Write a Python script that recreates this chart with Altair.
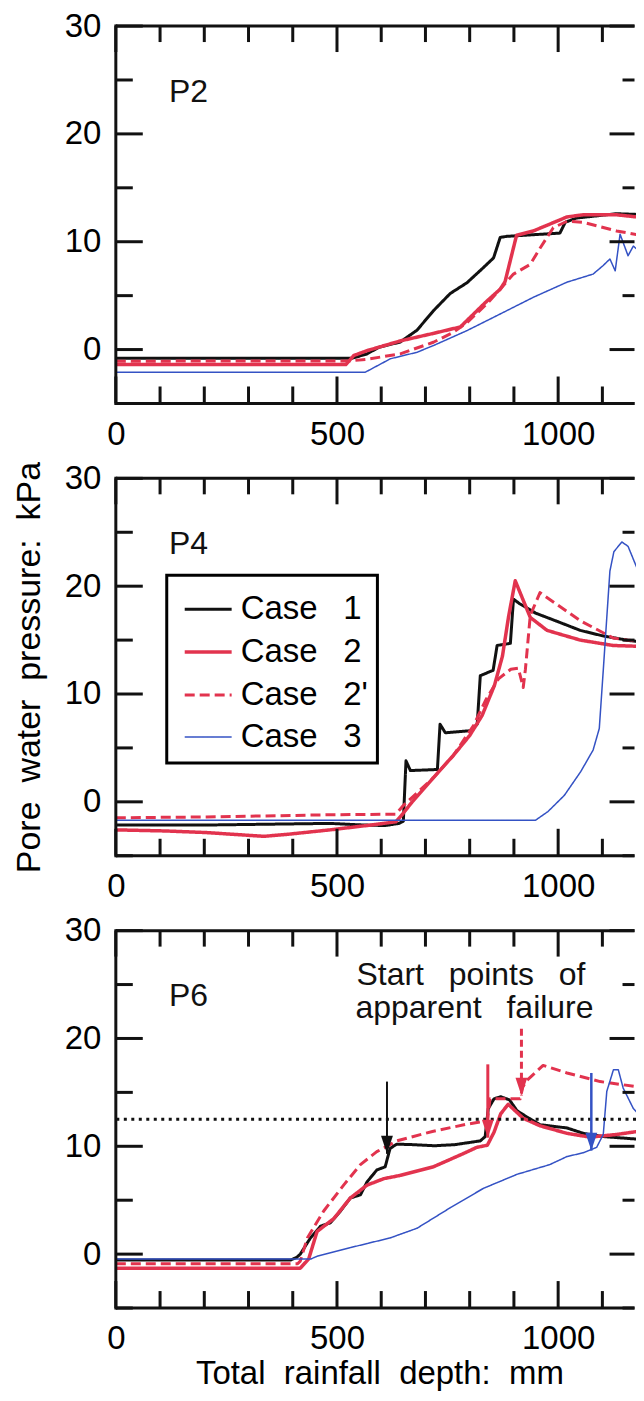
import altair as alt
import pandas as pd

FONT = "Liberation Sans"
BLACK = "#111111"
RED = "#e2334e"
BLUE = "#3452c4"

CASES = ["Case 1", "Case 2", "Case 2'", "Case 3"]
CASE_COLORS = [BLACK, RED, RED, BLUE]
CASE_DASH = [[1, 0], [1, 0], [10, 5], [1, 0]]
CASE_WIDTH = [3, 3.5, 3, 1.5]

# ---------------- P2 ----------------
p2_c1_x = [0, 535, 568, 594, 643, 681, 718, 756, 794, 831, 854, 869, 884, 1004, 1016, 1042, 1132, 1200]
p2_c1_y = [-0.8, -0.8, -0.4, 0.2, 0.7, 1.8, 3.6, 5.2, 6.2, 7.6, 8.5, 10.4, 10.5, 10.8, 11.8, 12.2, 12.6, 12.5]
p2_c2_x = [0, 520, 538, 568, 643, 718, 779, 809, 839, 869, 880, 906, 944, 1020, 1057, 1132, 1200]
p2_c2_y = [-1.39, -1.39, -0.55, -0.1, 0.8, 1.5, 2.1, 3.3, 4.5, 5.6, 6.3, 10.6, 11.0, 12.3, 12.5, 12.5, 12.2]
p2_c2d_x = [0, 530, 568, 643, 718, 763, 794, 839, 869, 899, 937, 959, 989, 1020, 1057, 1132, 1200]
p2_c2d_y = [-1.08, -1.05, -0.9, -0.4, 0.68, 1.6, 2.5, 4.25, 5.6, 7.0, 7.9, 9.4, 11.3, 11.9, 11.8, 11.0, 10.5]
p2_c3_x = [0, 564, 621, 681, 718, 794, 869, 944, 1020, 1079, 1102, 1117, 1129, 1140, 1158, 1170, 1181, 1200]
p2_c3_y = [-2.1, -2.1, -0.85, -0.25, 0.37, 1.76, 3.3, 4.85, 6.25, 7.0, 7.8, 8.4, 7.3, 10.7, 8.7, 9.6, 9.2, 9.8]

# ---------------- P4 ----------------
p4_c1_x = [0, 205, 484, 560, 609, 640, 650, 656, 666, 727, 733, 745, 801, 817, 824, 853, 862, 892, 899, 912, 949, 1000, 1050, 1100, 1162, 1200]
p4_c1_y = [-2.15, -2.15, -2.0, -2.15, -2.2, -2.0, -1.8, 3.8, 2.9, 3.0, 7.2, 6.4, 6.6, 7.2, 11.7, 12.2, 14.5, 14.7, 18.8, 18.4, 17.5, 16.7, 15.9, 15.4, 14.95, 14.8]
p4_c2_x = [0, 112, 205, 335, 391, 484, 577, 633, 647, 670, 716, 763, 800, 828, 856, 874, 888, 903, 912, 937, 975, 1050, 1124, 1200]
p4_c2_y = [-2.6, -2.7, -2.85, -3.2, -3.0, -2.6, -2.15, -1.85, -1.2, 0.0, 2.15, 4.3, 6.15, 8.0, 10.8, 13.5, 17.2, 20.5, 19.6, 17.1, 15.9, 15.0, 14.5, 14.4]
p4_c2d_x = [0, 205, 484, 633, 651, 716, 763, 809, 837, 865, 893, 910, 921, 926, 937, 959, 1050, 1124, 1155, 1200]
p4_c2d_y = [-1.48, -1.4, -1.2, -1.15, -0.3, 2.15, 4.3, 7.1, 9.5, 11.4, 12.3, 12.4, 10.6, 12.3, 17.3, 19.4, 16.8, 15.2, 15.0, 14.8]
p4_c3_x = [0, 949, 977, 1014, 1051, 1079, 1093, 1102, 1117, 1126, 1144, 1158, 1177, 1200]
p4_c3_y = [-1.7, -1.7, -0.9, 0.6, 2.8, 4.8, 6.8, 12.2, 21.4, 23.2, 24.1, 23.7, 21.8, 20.2]

# ---------------- P6 ----------------
p6_c1_x = [0, 395, 409, 417, 440, 463, 485, 508, 530, 553, 568, 590, 609, 620, 635, 673, 720, 766, 824, 835, 842, 855, 870, 890, 907, 930, 959, 1020, 1057, 1102, 1200]
p6_c1_y = [-0.55, -0.55, -0.3, 0.0, 1.5, 2.6, 2.9, 4.0, 5.2, 5.5, 6.7, 7.8, 8.1, 9.8, 10.2, 10.15, 10.05, 10.15, 10.5, 10.9, 13.5, 14.4, 14.6, 14.3, 13.3, 12.7, 12.0, 11.7, 11.2, 10.9, 10.6]
p6_c2_x = [0, 417, 436, 455, 493, 530, 568, 606, 643, 718, 779, 816, 840, 855, 870, 887, 921, 959, 1020, 1072, 1133, 1200]
p6_c2_y = [-1.3, -1.3, -0.45, 2.1, 3.3, 5.2, 6.4, 7.0, 7.3, 8.1, 9.2, 9.9, 10.1, 11.3, 13.0, 13.9, 12.6, 11.9, 11.2, 10.85, 11.1, 11.5]
p6_c2d_x = [0, 411, 417, 433, 470, 515, 553, 590, 635, 718, 794, 831, 840, 846, 914, 920, 929, 966, 1020, 1095, 1200]
p6_c2d_y = [-0.9, -0.9, -0.65, 1.5, 4.0, 6.4, 8.3, 9.5, 10.5, 11.4, 12.05, 12.3, 12.4, 14.4, 14.4, 15.5, 16.1, 17.5, 16.8, 16.0, 15.4]
p6_c3_x = [0, 441, 455, 530, 620, 681, 756, 831, 907, 981, 1020, 1057, 1087, 1102, 1110, 1125, 1136, 1147, 1170, 1200]
p6_c3_y = [-0.45, -0.45, -0.2, 0.6, 1.5, 2.4, 4.3, 6.1, 7.4, 8.3, 9.05, 9.4, 9.9, 11.1, 15.1, 17.1, 17.1, 15.4, 13.5, 12.2]

# P6 annotations
threshold_y = [12.5]
arrow_x = [613, 841, 917, 1075]
arrow_top = [16.0, 17.6, 20.9, 16.8]
arrow_tip = [9.3, 10.8, 14.7, 9.6]
arrow_color = [BLACK, RED, RED, BLUE]
arrow_width = [2, 3, 3, 2.5]
arrow_dashed = [False, False, True, False]
note_x = [544, 542]
note_y = [24.95, 21.93]
note_text = ["Start points of", "apparent failure"]

panel_tags = ["P2", "P4", "P6"]
x_tick_values = list(range(0, 1200, 100))
y_tick_values = list(range(-5, 31, 5))
x_labels = [0, 500, 1000]
y_labels = [0, 10, 20, 30]

LGAP = "\u2002\u00a0"
NGAP = "\u2002\u00a0"
TGAP = "\u00a0\u00a0"
YTITLE = TGAP.join(["Pore", "water", "pressure:", "kPa"])
XTITLE = TGAP.join(["Total", "rainfall", "depth:", "mm"])

W, H = 521, 378
X_MAX = 1176
XS = alt.Scale(domain=[0, X_MAX], nice=False, zero=False)
YS = alt.Scale(domain=[-5, 30], nice=False, zero=False)
HEAD = "M-0.33,-1L0.33,-1L0,0Z"


def series_df(series):
    rows = []
    for case, xs, ys in series:
        for x, y in zip(xs, ys):
            rows.append({"x": x, "y": y, "case": case})
    return pd.DataFrame(rows)


def tick_layers(X, Y):
    tx = pd.DataFrame({"x": [v for v in x_tick_values if v <= X_MAX],
                       "major": [v % 500 == 0 for v in x_tick_values if v <= X_MAX]})
    ty = pd.DataFrame({"y": y_tick_values, "major": [v % 10 == 0 for v in y_tick_values]})
    out = []
    for major, ln, rln in [(True, 27, 25), (False, 17, 12)]:
        flt = "datum.major" if major else "!datum.major"
        bx = alt.Chart(tx).transform_filter(flt).mark_rule(color=BLACK, strokeWidth=3)
        out.append(bx.encode(x=X("x"), y=alt.value(H), y2=alt.value(H - ln)))
        out.append(bx.encode(x=X("x"), y=alt.value(0), y2=alt.value(ln - 1)))
        by = alt.Chart(ty).transform_filter(flt).mark_rule(color=BLACK, strokeWidth=3)
        out.append(by.encode(y=Y("y"), x=alt.value(0), x2=alt.value(ln)))
        out.append(by.encode(y=Y("y"), x=alt.value(W - 1.5 - rln), x2=alt.value(W - 1.5)))
    one = pd.DataFrame({"k": [0]})
    fr = alt.Chart(one).mark_rule(color=BLACK, strokeWidth=3)
    out.append(fr.encode(x=alt.value(0), x2=alt.value(W - 1.5), y=alt.value(0)))
    out.append(fr.encode(x=alt.value(0), x2=alt.value(W - 1.5), y=alt.value(H)))
    out.append(fr.encode(x=alt.value(0), y=alt.value(-1.5), y2=alt.value(H + 1.5)))
    return out


def p6_extras(X, Y):
    out = []
    out.append(alt.Chart(pd.DataFrame({"y": threshold_y})).mark_rule(
        color=BLACK, strokeWidth=3, strokeDash=[3, 4.5], clip=True
    ).encode(y=Y("y")))
    for i in range(len(arrow_x)):
        d = pd.DataFrame({"x": [arrow_x[i]], "y": [arrow_top[i]], "tip": [arrow_tip[i]]})
        kw = dict(color=arrow_color[i], strokeWidth=arrow_width[i])
        if arrow_dashed[i]:
            kw["strokeDash"] = [7, 4]
        out.append(alt.Chart(d).mark_rule(**kw).encode(x=X("x"), y=Y("y"), y2=alt.Y2("tip:Q")))
        d2 = pd.DataFrame({"x": [arrow_x[i]], "y": [arrow_tip[i]]})
        out.append(alt.Chart(d2).mark_point(shape=HEAD, filled=True, size=1296, opacity=1,
                                            color=arrow_color[i], strokeWidth=0).encode(
            x=X("x"), y=Y("y")))
    out.append(alt.Chart(pd.DataFrame({"x": note_x, "y": note_y,
                                       "t": [s.replace(" ", NGAP) for s in note_text]})).mark_text(
        align="left", baseline="alphabetic", fontSize=32, font=FONT, color=BLACK
    ).encode(x=X("x"), y=Y("y"), text="t:N"))
    return out


def panel(tag, series, show_legend=False, xtitle=None, ytitle=None, extras=None):
    df = series_df(series)
    common_x = dict(values=x_labels, format="d", ticks=False, tickSize=0, domain=False,
                    grid=False, labelFont=FONT, labelFontSize=33, labelColor="black",
                    labelPadding=15, labelFlush=False)
    if xtitle:
        xaxis = alt.Axis(title=xtitle, titleFont=FONT, titleFontSize=33, titleFontWeight="normal",
                         titleColor="black", titleBaseline="alphabetic", titleY=76, titleX=264,
                         **common_x)
    else:
        xaxis = alt.Axis(title=None, **common_x)
    common_y = dict(values=y_labels, format="d", ticks=False, tickSize=0, domain=False,
                    grid=False, labelFont=FONT, labelFontSize=33, labelColor="black",
                    labelPadding=15, labelFlush=False)
    if ytitle:
        yaxis = alt.Axis(title=ytitle, titleFont=FONT, titleFontSize=34, titleFontWeight="normal",
                         titleColor="black", titleAngle=270, titleBaseline="alphabetic",
                         titleAlign="center", titleX=-76, titleY=H / 2, **common_y)
    else:
        yaxis = alt.Axis(title=None, **common_y)

    def X(field):
        return alt.X(f"{field}:Q", scale=XS, axis=xaxis)

    def Y(field):
        return alt.Y(f"{field}:Q", scale=YS, axis=yaxis)

    if show_legend:
        leg = alt.Legend(orient="none", legendX=51, legendY=97, title=None, padding=9,
                         symbolOffset=7, labelOffset=7, rowPadding=0.5, labelFont=FONT,
                         labelFontSize=33, labelColor="black", symbolSize=2209,
                         symbolType="stroke", strokeColor="black", fillColor="white",
                         labelExpr=f"replace(datum.label, ' ', '{LGAP}')")
        ck = dict(legend=leg)
        ok = {}
    else:
        ck = dict(legend=None)
        ok = dict(legend=None)

    lines = alt.Chart(df).mark_line(clip=True, strokeJoin="round").encode(
        x=X("x"),
        y=Y("y"),
        color=alt.Color("case:N", scale=alt.Scale(domain=CASES, range=CASE_COLORS), **ck),
        strokeDash=alt.StrokeDash("case:N", scale=alt.Scale(domain=CASES, range=CASE_DASH), **ok),
        strokeWidth=alt.StrokeWidth("case:N", scale=alt.Scale(type="ordinal", domain=CASES,
                                                               range=CASE_WIDTH), **ok),
    )
    label = alt.Chart(pd.DataFrame({"x": [120], "y": [23], "t": [tag]})).mark_text(
        align="left", baseline="alphabetic", fontSize=32, font=FONT, color=BLACK
    ).encode(x=X("x"), y=Y("y"), text="t:N")
    extra_layers = extras(X, Y) if extras else []
    layers = [lines] + extra_layers + tick_layers(X, Y) + [label]
    return alt.layer(*layers).properties(width=W, height=H)


p1 = panel(panel_tags[0], [(CASES[0], p2_c1_x, p2_c1_y), (CASES[1], p2_c2_x, p2_c2_y),
                           (CASES[2], p2_c2d_x, p2_c2d_y), (CASES[3], p2_c3_x, p2_c3_y)])
p2 = panel(panel_tags[1], [(CASES[0], p4_c1_x, p4_c1_y), (CASES[1], p4_c2_x, p4_c2_y),
                           (CASES[2], p4_c2d_x, p4_c2d_y), (CASES[3], p4_c3_x, p4_c3_y)],
           show_legend=True, ytitle=YTITLE)
p3 = panel(panel_tags[2], [(CASES[0], p6_c1_x, p6_c1_y), (CASES[1], p6_c2_x, p6_c2_y),
                           (CASES[2], p6_c2d_x, p6_c2d_y), (CASES[3], p6_c3_x, p6_c3_y)],
           xtitle=XTITLE, extras=p6_extras)

chart = alt.vconcat(p1, p2, p3, spacing=75, bounds="flush").resolve_scale(
    color="independent", strokeDash="independent", strokeWidth="independent",
    x="independent", y="independent"
).properties(
    padding={"left": 4, "top": 1, "right": 0, "bottom": 0}, background="white"
).configure(font=FONT).configure_view(stroke=None).configure_legend(strokeWidth=3)

chart.save("out.html", embed_options={"renderer": "svg", "actions": False})
